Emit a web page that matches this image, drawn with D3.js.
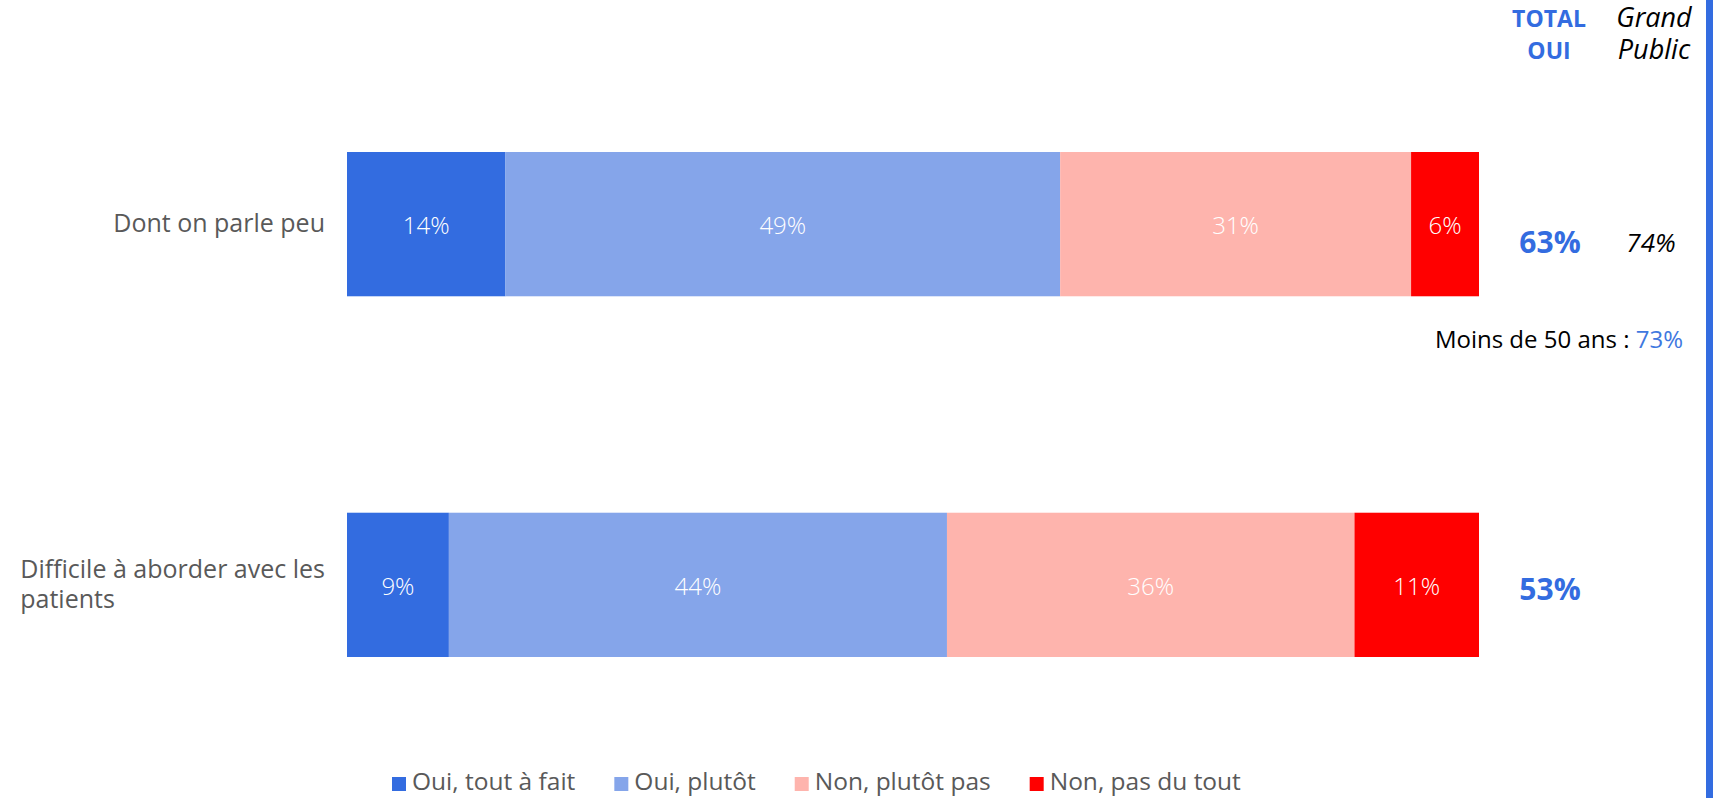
<!DOCTYPE html>
<html>
<head>
<meta charset="utf-8">
<script src="https://cdn.jsdelivr.net/npm/d3@7"></script>
<style>
  html, body { margin: 0; padding: 0; background: #fff; }
  svg { display: block; font-family: "Open Sans", sans-serif; }
</style>
</head>
<body>
<div id="chart"></div>
<script>
// data
const categories = ["Dont on parle peu", "Difficile à aborder avec les patients"];
const categoryLines = [["Dont on parle peu"], ["Difficile à aborder avec les", "patients"]];
const seriesNames = ["Oui, tout à fait", "Oui, plutôt", "Non, plutôt pas", "Non, pas du tout"];
const seriesColors = ["#336ce0", "#85a5ea", "#feb4ad", "#ff0000"];
const ouiToutAFait = [14, 9];
const ouiPlutot = [49, 44];
const nonPlutotPas = [31, 36];
const nonPasDuTout = [6, 11];
const totalOui = [63, 53];
const grandPublic = [74, null];
const moins50 = 73;

const width = 1713, height = 798;
const margin = {left: 347, right: 234};

const svg = d3.select("#chart")
  .append("svg")
  .attr("width", width)
  .attr("height", height)
  .attr("viewBox", [0, 0, width, height]);

// rows for the stack
const rows = categories.map((c, i) => ({
  cat: c,
  "Oui, tout à fait": ouiToutAFait[i],
  "Oui, plutôt": ouiPlutot[i],
  "Non, plutôt pas": nonPlutotPas[i],
  "Non, pas du tout": nonPasDuTout[i]
}));
const stacked = d3.stack().keys(seriesNames)(rows);

let x = d3.scaleLinear()
  .domain([0, 100])
  .range([margin.left, width - margin.right]);

let y = d3.scaleBand()
  .domain(categories)
  .range([152, 657])
  .paddingInner(0.6)
  .paddingOuter(0);

const color = d3.scaleOrdinal().domain(seriesNames).range(seriesColors);

// bars
const layer = svg.selectAll("g.layer")
  .data(stacked)
  .enter()
  .append("g")
  .attr("class", "layer")
  .attr("fill", (d) => color(d.key));

layer.selectAll("rect")
  .data((d) => d)
  .enter()
  .append("rect")
  .attr("x", (d) => x(d[0]))
  .attr("y", (d) => y(d.data.cat))
  .attr("width", (d) => x(d[1]) - x(d[0]))
  .attr("height", y.bandwidth());

// value labels inside segments
layer.selectAll("text")
  .data((d) => d)
  .enter()
  .append("text")
  .attr("x", (d) => (x(d[0]) + x(d[1])) / 2)
  .attr("y", (d) => y(d.data.cat) + y.bandwidth() / 2 + 10)
  .attr("text-anchor", "middle")
  .attr("fill", "#fff")
  .attr("font-size", "24px")
  .attr("font-weight", 300)
  .text((d) => (d[1] - d[0]) + "%");

// category labels, block right-aligned, lines left-aligned
categories.forEach((c, i) => {
  const lines = categoryLines[i];
  const cy = y(c) + y.bandwidth() / 2;
  const lh = 30;
  const t = svg.append("text")
    .attr("fill", "#595959")
    .attr("font-size", "25px");
  const spans = t.selectAll("tspan")
    .data(lines)
    .enter()
    .append("tspan")
    .attr("y", (d, j) => cy + 8 - (lines.length - 1) * lh / 2 + j * lh)
    .text((d) => d);
  const w = d3.max(spans.nodes(), (n) => n.getComputedTextLength());
  spans.attr("x", 325 - w);
});

// TOTAL OUI / Grand Public headers
const hdr = svg.append("g");
hdr.append("text")
  .attr("text-anchor", "middle").attr("font-size", "23px").attr("font-weight", 700)
  .attr("fill", "#336ce0")
  .call((t) => {
    t.append("tspan").attr("x", 1549).attr("y", 27).text("TOTAL");
    t.append("tspan").attr("x", 1549).attr("y", 59).text("OUI");
  });
hdr.append("text")
  .attr("text-anchor", "middle").attr("font-size", "27px").attr("font-style", "italic")
  .attr("fill", "#000")
  .call((t) => {
    t.append("tspan").attr("x", 1654).attr("y", 27).text("Grand");
    t.append("tspan").attr("x", 1654).attr("y", 59).text("Public");
  });

// totals
svg.selectAll("text.total")
  .data(categories)
  .enter()
  .append("text")
  .attr("class", "total")
  .attr("x", 1550)
  .attr("y", (d, i) => y(d) + y.bandwidth() / 2 + (i === 0 ? 29 : 15))
  .attr("text-anchor", "middle")
  .attr("font-size", "30px")
  .attr("font-weight", 700)
  .attr("fill", "#336ce0")
  .text((d, i) => totalOui[i] + "%");

svg.selectAll("text.gp")
  .data(categories.filter((d, i) => grandPublic[i] != null))
  .enter()
  .append("text")
  .attr("class", "gp")
  .attr("x", 1651)
  .attr("y", (d) => y(d) + y.bandwidth() / 2 + 28)
  .attr("text-anchor", "middle")
  .attr("font-size", "26px")
  .attr("font-style", "italic")
  .attr("fill", "#000")
  .text((d) => grandPublic[categories.indexOf(d)] + "%");

// sub note
const note = svg.append("text")
  .attr("x", 1683)
  .attr("y", 348)
  .attr("text-anchor", "end")
  .attr("font-size", "24px")
  .attr("fill", "#000");
note.append("tspan").text("Moins de 50 ans : ");
note.append("tspan").attr("fill", "#3f78e0").text(moins50 + "%");

// right edge accent
svg.append("rect")
  .attr("x", 1706).attr("y", 0)
  .attr("width", 7).attr("height", height)
  .attr("fill", "#336ce0");

// legend
const legend = svg.append("g").attr("transform", "translate(392,0)");
let lx = 0;
seriesNames.forEach((s) => {
  const item = legend.append("g").attr("transform", `translate(${lx},0)`);
  item.append("rect")
    .attr("x", 0).attr("y", 777)
    .attr("width", 14).attr("height", 14)
    .attr("fill", color(s));
  const t = item.append("text")
    .attr("x", 20).attr("y", 790)
    .attr("font-size", "24.5px")
    .attr("fill", "#595959")
    .text(s);
  lx += 20 + t.node().getComputedTextLength() + 39;
});
</script>
</body>
</html>
